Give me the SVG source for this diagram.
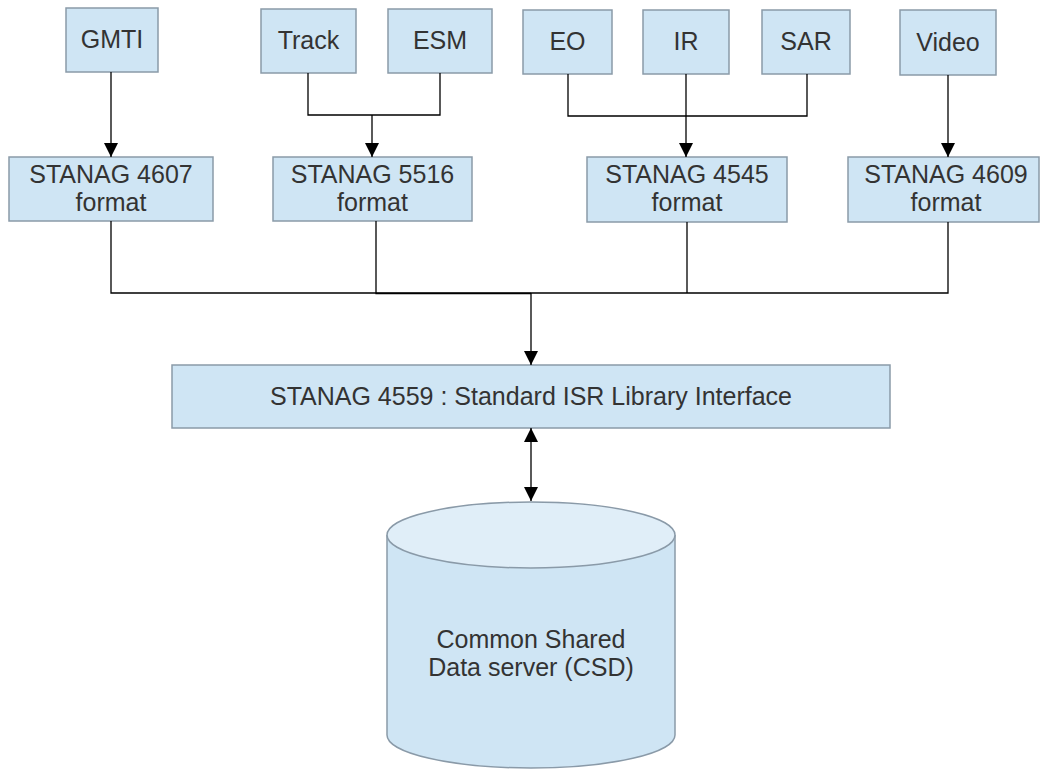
<svg xmlns="http://www.w3.org/2000/svg" width="1041" height="769" viewBox="0 0 1041 769">
  <defs>
    <marker id="arrowEnd" viewBox="0 0 14 19" refX="14" refY="9.5" markerWidth="14" markerHeight="19" markerUnits="userSpaceOnUse" orient="auto">
      <path d="M0,2.5 L14,9.5 L0,16.5 Z" fill="#000"/>
    </marker>
    <marker id="arrowStart" viewBox="0 0 14 19" refX="0" refY="9.5" markerWidth="14" markerHeight="19" markerUnits="userSpaceOnUse" orient="auto">
      <path d="M14,2.5 L0,9.5 L14,16.5 Z" fill="#000"/>
    </marker>
    <style>
      .box { fill: #cfe5f4; stroke: #8a9aa8; stroke-width: 1.5; }
      .lbl { font-family: "Liberation Sans", Arial, sans-serif; font-size: 25px; fill: #333; text-anchor: middle; }
      .wire { fill: none; stroke: #000; stroke-width: 1.3; }
      .arrow { fill: none; stroke: #000; stroke-width: 1.3; marker-end: url(#arrowEnd); }
    </style>
  </defs>
  <rect width="1041" height="769" fill="#fff"/>

  <!-- sensor sources -->
  <g id="gmti"><rect class="box" x="66" y="8" width="92" height="64"/><text class="lbl" x="112" y="48">GMTI</text></g>
  <g id="track"><rect class="box" x="261" y="9" width="95" height="64"/><text class="lbl" x="308.5" y="49">Track</text></g>
  <g id="esm"><rect class="box" x="388" y="9" width="104" height="64"/><text class="lbl" x="440" y="49">ESM</text></g>
  <g id="eo"><rect class="box" x="523" y="10" width="89" height="64"/><text class="lbl" x="567.5" y="50">EO</text></g>
  <g id="ir"><rect class="box" x="643" y="10" width="86" height="64"/><text class="lbl" x="686" y="50">IR</text></g>
  <g id="sar"><rect class="box" x="762" y="10" width="88" height="64"/><text class="lbl" x="806" y="50">SAR</text></g>
  <g id="video"><rect class="box" x="900" y="10" width="96" height="65"/><text class="lbl" x="948" y="51">Video</text></g>

  <!-- format boxes -->
  <g id="stanag4607"><rect class="box" x="9" y="157" width="204" height="64"/><text class="lbl" x="111" y="183">STANAG 4607</text><text class="lbl" x="111" y="211">format</text></g>
  <g id="stanag5516"><rect class="box" x="273" y="157" width="199" height="64"/><text class="lbl" x="372.5" y="183">STANAG 5516</text><text class="lbl" x="372.5" y="211">format</text></g>
  <g id="stanag4545"><rect class="box" x="587" y="157" width="200" height="65"/><text class="lbl" x="687" y="183">STANAG 4545</text><text class="lbl" x="687" y="211">format</text></g>
  <g id="stanag4609"><rect class="box" x="848" y="157" width="191" height="65"/><text class="lbl" x="946" y="183">STANAG 4609</text><text class="lbl" x="946" y="211">format</text></g>

  <!-- library interface -->
  <g id="stanag4559"><rect class="box" x="172" y="365" width="718" height="63"/><text class="lbl" x="531" y="405">STANAG 4559 : Standard ISR Library Interface</text></g>

  <!-- shared data server -->
  <g id="csd">
    <path d="M387,535 L387,735 A144,33 0 0 0 675,735 L675,535" fill="#cfe5f4" stroke="#8a9aa8" stroke-width="1.5"/>
    <ellipse cx="531" cy="535" rx="144" ry="33" fill="#e0eef8" stroke="#8a9aa8" stroke-width="1.5"/>
    <text class="lbl" x="531" y="648">Common Shared</text>
    <text class="lbl" x="531" y="676">Data server (CSD)</text>
  </g>

  <!-- connectors -->
  <g id="connectors">
    <path class="arrow" d="M111,72 L111,157"/>
    <path class="wire" d="M308,73 L308,115 L440,115 L440,73"/>
    <path class="arrow" d="M372,115 L372,157"/>
    <path class="wire" d="M568,74 L568,116 L807,116 L807,74"/>
    <path class="arrow" d="M686,74 L686,157"/>
    <path class="arrow" d="M948,75 L948,157"/>
    <path class="wire" d="M111,221 L111,293 L948,293 L948,222"/>
    <path class="wire" d="M376,221 L376,293.5 L531,293.5" stroke-width="2"/>
    <path class="wire" d="M687,222 L687,293"/>
    <path class="arrow" d="M531,293 L531,365"/>
    <path class="wire" d="M531,428 L531,501" marker-start="url(#arrowStart)" marker-end="url(#arrowEnd)"/>
  </g>
</svg>
